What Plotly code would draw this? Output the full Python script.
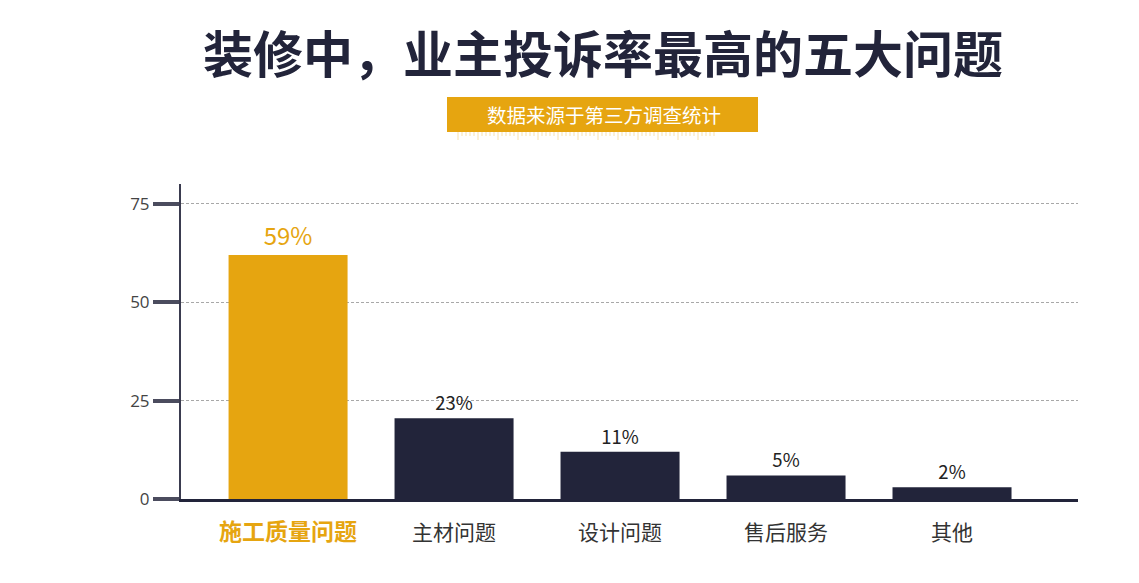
import plotly.graph_objects as go

categories = ["施工质量问题", "主材问题", "设计问题", "售后服务", "其他"]
bar_heights = [62, 20.5, 12, 6, 3]
value_labels = ["59%", "23%", "11%", "5%", "2%"]
y_ticks = [0, 25, 50, 75]

title = "装修中，业主投诉率最高的五大问题"
subtitle = "数据来源于第三方调查统计"

GOLD = "#E6A510"
NAVY = "#22243A"
FONT = "Noto Sans CJK SC"

# plot area as it should appear on screen (page adds an 8px body margin)
PX0, PY0, PW, PH = 181, 184, 897, 315


def px(x):
    return (x - PX0) / PW


def py(y):
    return 1 + (PY0 - y) / PH


bar_colors = [GOLD] + [NAVY] * (len(categories) - 1)
label_colors = [GOLD] + ["#222222"] * (len(categories) - 1)
label_sizes = [24] + [18.5] * (len(categories) - 1)

tick_text = [
    f"<b><span style='color:{GOLD};font-size:23px'>{categories[0]}</span></b>"
] + categories[1:]

fig = go.Figure(
    go.Bar(
        x=list(range(len(categories))),
        y=bar_heights,
        width=0.717,
        marker={"color": bar_colors, "line": {"width": 0}},
        text=value_labels,
        textposition="outside",
        textfont={"size": label_sizes, "color": label_colors, "family": FONT},
        cliponaxis=False,
        hoverinfo="skip",
    )
)

fig.update_layout(
    width=1139,
    height=583,
    margin={"l": PX0 - 8, "r": 1139 - PW - PX0 + 8, "t": PY0 - 8, "b": 583 - PH - PY0 + 8},
    plot_bgcolor="white",
    paper_bgcolor="white",
    showlegend=False,
    font={"family": FONT, "color": "#333333"},
)

fig.update_xaxes(
    range=[-0.645, 4.759],
    tickvals=list(range(len(categories))),
    ticktext=tick_text,
    tickfont={"size": 21, "color": "#333333", "family": FONT},
    ticks="",
    ticklabelstandoff=13,
    showgrid=False,
    zeroline=False,
    showline=True,
    linecolor=NAVY,
    linewidth=3,
)

fig.update_yaxes(
    range=[0, 80],
    tickvals=y_ticks,
    tickfont={"size": 17, "color": "#444444", "family": "Open Sans"},
    ticks="outside",
    ticklen=26,
    tickwidth=4,
    tickcolor="#4B4C5E",
    showgrid=True,
    gridcolor="#A8A8A8",
    griddash="3px,2px",
    gridwidth=1,
    zeroline=False,
    showline=True,
    linecolor="#3A3B4F",
    linewidth=2,
)

# title and subtitle banner
fig.add_annotation(
    text=f"<b>{title}</b>",
    xref="paper", yref="paper",
    x=px(603), y=py(51),
    xanchor="center", yanchor="middle",
    showarrow=False,
    font={"size": 50, "color": NAVY, "family": FONT},
)
fig.add_shape(
    type="rect", xref="paper", yref="paper",
    x0=px(447), x1=px(758), y0=py(132), y1=py(97),
    fillcolor=GOLD, line={"width": 0}, layer="above",
)
fig.add_annotation(
    text=subtitle,
    xref="paper", yref="paper",
    x=px(604), y=py(115),
    xanchor="center", yanchor="middle",
    showarrow=False,
    font={"size": 19.5, "color": "white", "family": FONT},
)

# faint ruler marks under the banner
path = ""
for i in range(65):
    mx = 458 + i * 4
    length = 8 if i % 5 == 0 else 4
    path += f"M{px(mx)},{py(132)} L{px(mx)},{py(132 + length)} "
fig.add_shape(
    type="path", xref="paper", yref="paper", path=path,
    line={"color": "rgba(230,165,16,0.35)", "width": 1},
)

fig.write_html("out.html")
